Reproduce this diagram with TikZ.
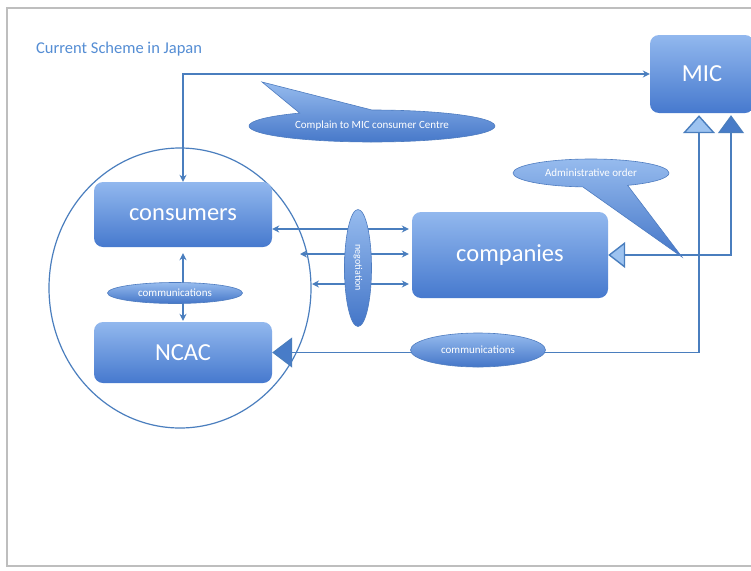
\documentclass[tikz,border=0pt]{standalone}
\usepackage{fontspec}
\setmainfont{Carlito}
\usetikzlibrary{shapes.geometric,shapes.callouts,arrows.meta}
\definecolor{linecol}{RGB}{74,126,190}
\definecolor{boxtop}{RGB}{146,184,238}
\definecolor{boxbot}{RGB}{70,121,206}
\definecolor{elltop}{RGB}{150,187,238}
\definecolor{ellbot}{RGB}{68,118,200}
\definecolor{ellline}{RGB}{78,124,192}
\definecolor{lighttri}{RGB}{157,195,240}
\definecolor{darktri}{RGB}{72,124,200}
\definecolor{titlecol}{RGB}{84,141,212}
\definecolor{bordercol}{RGB}{190,190,190}
\begin{document}
\begin{tikzpicture}[x=1pt,y=-1pt,
  box/.style={rounded corners=9pt, top color=boxtop, bottom color=boxbot, draw=none,
    text=white, font=\fontsize{24.5}{28}\selectfont, inner sep=0pt},
  oval/.style={ellipse, top color=elltop, bottom color=ellbot, draw=ellline, line width=0.6pt,
    text=white, inner sep=0pt, font=\fontsize{11}{13}\selectfont},
  callbox/.style={ellipse callout, top color=elltop, bottom color=ellbot, draw=ellline, line width=0.6pt,
    text=white, inner sep=0pt, font=\fontsize{11}{13}\selectfont},
  conn/.style={draw=linecol, line width=1.4pt},
  >={Stealth[length=7pt,width=7pt]}
]
\useasboundingbox (0,0) rectangle (751,570);
\fill[white] (0,0) rectangle (751,570);
\draw[bordercol, line width=1.2pt] (760,8) -- (7,8) -- (7,566) -- (760,566);
\node[anchor=west, text=titlecol, font=\fontsize{16.5}{19}\selectfont, inner sep=0pt] (title) at (36,49) {Current Scheme in Japan};

% group circle
\node[ellipse, draw=linecol, line width=1.2pt, minimum width=262pt, minimum height=280pt] (group) at (180,288) {};

% boxes
\node[box, minimum width=178pt, minimum height=65pt] (consumers) at (183,214.5) {consumers};
\node[box, minimum width=178pt, minimum height=61pt] (ncac) at (183,352.5) {NCAC};
\node[box, minimum width=196pt, minimum height=86pt] (companies) at (510,255) {companies};
\node[box, minimum width=104pt, minimum height=78pt] (mic) at (702,74) {MIC};

% connectors
\draw[conn,<->] (consumers.north) |- (mic.west);
\draw[conn,<->] ([yshift=-6pt]consumers.south) -- ([yshift=1pt]ncac.north);

\coordinate (n1) at ([yshift=-14.5pt]consumers.east);
\coordinate (n2) at (300,254);
\coordinate (n3) at (312,284);
\draw[conn,<->] (n1) -- ([xshift=-3pt]companies.west |- n1);
\draw[conn,<->] (n2) -- ([xshift=-3pt]companies.west |- n2);
\draw[conn,<->] (n3) -- ([xshift=-3pt]companies.west |- n3);

\draw[conn, {Triangle[length=20pt,width=30pt,fill=darktri]}-{Triangle[length=18pt,width=32pt,fill=lighttri]}]
  (ncac.east) -| ([xshift=-3pt,yshift=-2pt]mic.south);
\draw[conn, {Triangle[length=17pt,width=26pt,fill=lighttri]}-{Triangle[length=18pt,width=26pt,fill=darktri]}]
  (companies.east) -| ([xshift=29pt,yshift=-2pt]mic.south);

% ovals
\node[oval, minimum width=135pt, minimum height=21pt] (comm1) at (175,293) {communications};
\node[oval, minimum width=135pt, minimum height=34pt] (comm2) at (478,350) {communications};
\node[oval, minimum width=27pt, minimum height=117pt] (nego) at (358,268) {};
\node[rotate=-90, text=white, font=\fontsize{10}{12}\selectfont, inner sep=0pt] (negotext) at (nego.center) {negotiation};

% callouts
\node[callbox, minimum width=246pt, minimum height=32pt,
  callout absolute pointer={(262,82)}, callout pointer arc=36] (complain) at (372,126) {Complain to MIC consumer Centre};
\node[callbox, minimum width=156pt, minimum height=28pt,
  callout absolute pointer={(682,257)}, callout pointer arc=34] (admin) at (591,173) {Administrative order};
\end{tikzpicture}
\end{document}
